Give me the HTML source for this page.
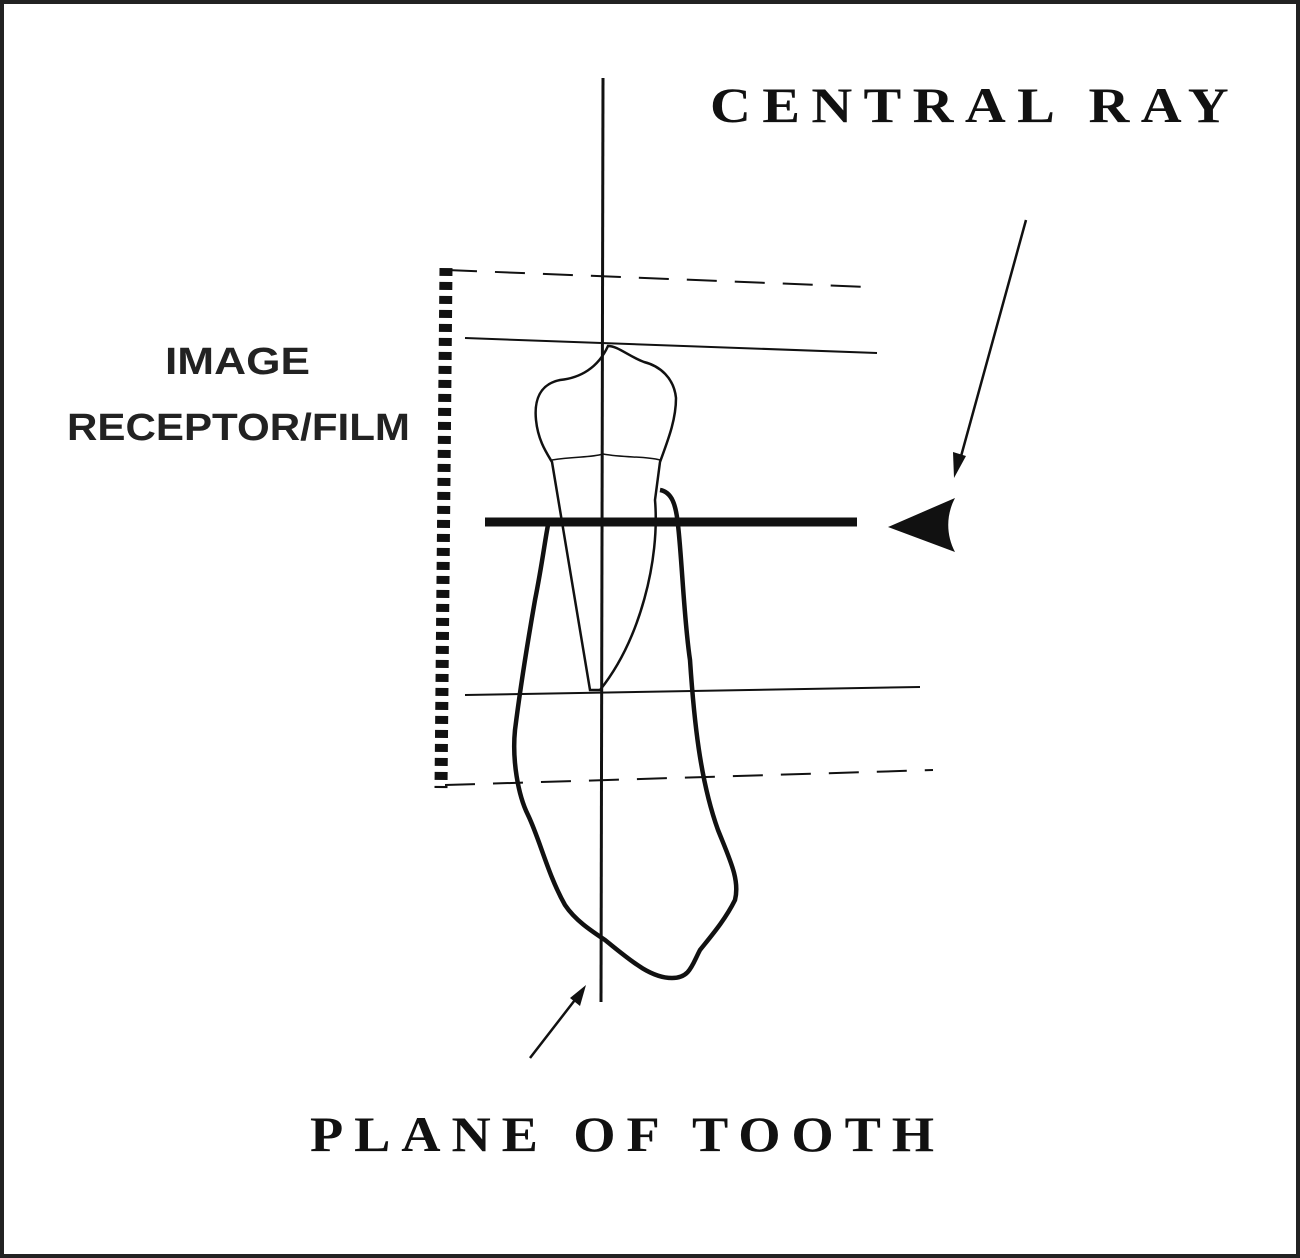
<!DOCTYPE html>
<html><head><meta charset="utf-8"><style>
html,body{margin:0;padding:0;background:#fff;}
svg{display:block;}
</style></head><body>
<svg width="1300" height="1258" viewBox="0 0 1300 1258" xmlns="http://www.w3.org/2000/svg">
<rect x="0" y="0" width="1300" height="1258" fill="#fff"/>
<rect x="2" y="2" width="1296" height="1254" fill="none" stroke="#222" stroke-width="4"/>
<line x1="603" y1="78" x2="601" y2="1002" stroke="#111" stroke-width="3"/>
<line x1="446" y1="268" x2="441" y2="788" stroke="#111" stroke-width="13" stroke-dasharray="8 6"/>
<line x1="447" y1="270" x2="868" y2="287" stroke="#111" stroke-width="2" stroke-dasharray="30 18"/>
<line x1="465" y1="338" x2="877" y2="353" stroke="#111" stroke-width="2"/>
<line x1="465" y1="695" x2="920" y2="687" stroke="#111" stroke-width="2"/>
<line x1="445" y1="785" x2="933" y2="770" stroke="#111" stroke-width="2" stroke-dasharray="30 18"/>
<path d="M608 346 C598 368 580 378 560 380 C540 384 534 400 536 420 C538 440 546 452 552 462 L590 690 L600 690 C640 640 660 560 655 500 L660 462 C668 440 676 420 676 398 C674 378 660 366 644 362 C628 356 618 346 608 346 Z" fill="none" stroke="#111" stroke-width="2.5"/>
<path d="M552 460 C575 456 590 458 603 454 C625 458 645 456 660 460" fill="none" stroke="#111" stroke-width="1.5"/>
<path d="M660 490 C672 492 676 505 678 525 C682 560 684 620 690 660 C694 720 700 780 718 830 C730 860 740 880 735 900 C725 920 712 935 700 950 C692 965 690 978 672 978 C650 978 630 960 605 940 C590 930 575 920 565 905 C548 875 540 840 528 815 C518 795 512 760 515 730 C520 690 528 640 535 600 C542 565 545 540 548 525" fill="none" stroke="#111" stroke-width="4.5"/>
<line x1="485" y1="522" x2="857" y2="522" stroke="#111" stroke-width="9"/>
<path d="M888 527 L955 498 C946 515 946 535 955 552 Z" fill="#111"/>
<line x1="1026" y1="220" x2="960" y2="460" stroke="#111" stroke-width="2.5"/>
<path d="M954 478 L953 452 L966 456 Z" fill="#111"/>
<line x1="530" y1="1058" x2="578" y2="996" stroke="#111" stroke-width="2.5"/>
<path d="M586 985 L580 1006 L570 998 Z" fill="#111"/>
<text x="710" y="122" textLength="530" lengthAdjust="spacingAndGlyphs" letter-spacing="10" font-family="Liberation Serif, serif" font-weight="bold" font-size="50" fill="#111">CENTRAL RAY</text>
<text x="310" y="1151" textLength="635" lengthAdjust="spacingAndGlyphs" letter-spacing="10" font-family="Liberation Serif, serif" font-weight="bold" font-size="50" fill="#111">PLANE OF TOOTH</text>
<text x="165" y="374" textLength="145" lengthAdjust="spacingAndGlyphs" font-family="Liberation Sans, sans-serif" font-weight="bold" font-size="38" fill="#222">IMAGE</text>
<text x="67" y="440" textLength="343" lengthAdjust="spacingAndGlyphs" font-family="Liberation Sans, sans-serif" font-weight="bold" font-size="38" fill="#222">RECEPTOR/FILM</text>
</svg>
</body></html>
